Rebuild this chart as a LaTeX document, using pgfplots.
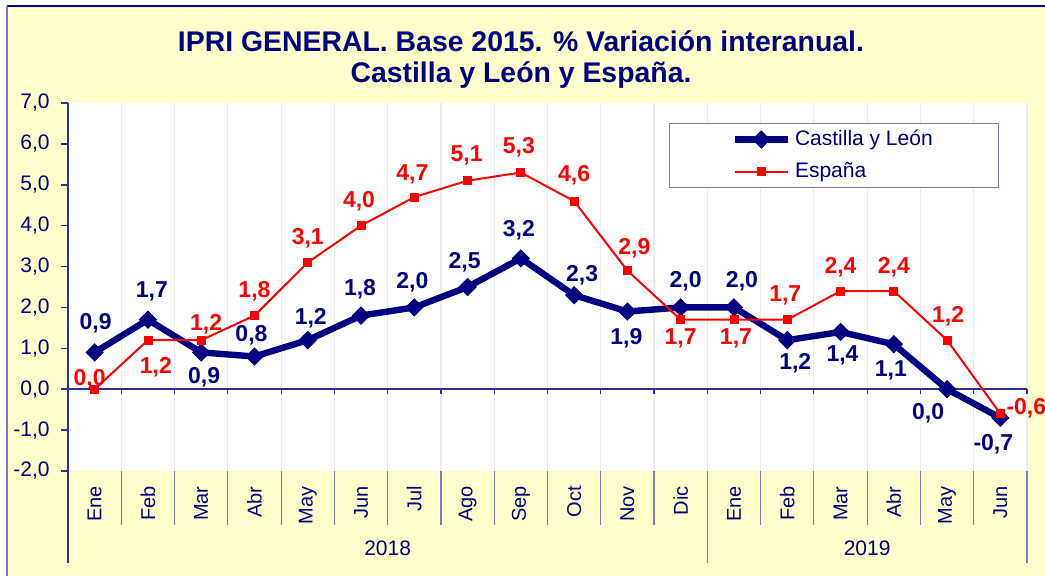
\documentclass[border=0pt]{standalone}
\usepackage{fontspec}
\setmainfont{Liberation Sans}
\usepackage{pgfplots}
\pgfplotsset{compat=1.18}
\usepackage{pgfplotstable}
\definecolor{navy}{HTML}{000080}
\definecolor{esp}{HTML}{FF0000}
\definecolor{bgy}{HTML}{FFFFCC}
\definecolor{axblue}{HTML}{2E2E99}
\definecolor{sepblue}{HTML}{7B7BBD}
\definecolor{gridc}{HTML}{ECECEC}

\pgfplotstableread{
x y dx dy
0 0.9 0.5 14.5
1 1.7 2 14
2 0.9 1.5 -12.5
3 0.8 -1.5 10.5
4 1.2 1.5 11
5 1.8 -0.5 13
6 2.0 -1 12.5
7 2.5 -1.5 12.5
8 3.2 -1 14
9 2.3 4 10
10 1.9 -0.5 -13.5
11 2.0 2.5 13
12 2.0 4 13
13 1.2 4 -11.5
14 1.4 1 -11.5
15 1.1 -1.5 -13
16 0.0 -9.5 -12
17 -0.7 -3.5 -13
}\cyl

\pgfplotstableread{
x y dx dy
0 0.0 -2.5 5
1 1.2 4 -13.5
2 1.2 2.5 8
3 1.8 0 12
4 3.1 0 12
5 4.0 -1 12
6 4.7 -1 11.5
7 5.1 -0.5 12.5
8 5.3 -1 12.5
9 4.6 0 13
10 2.9 3.5 11
11 1.7 0 -9.5
12 1.7 1 -9.5
13 1.7 -1 12
14 2.4 0 12
15 2.4 0 12
16 1.2 0.5 12
17 -0.6 13 2.5
}\esptab

\begin{document}
\begin{tikzpicture}
\path[use as bounding box] (0pt,0pt) rectangle (522.5pt,288pt);
\fill[bgy] (3.5pt,-5pt) rectangle (530pt,285pt);
\draw[navy, line width=1pt] (3.5pt,285pt) -- (530pt,285pt);
\draw[sepblue, line width=1.2pt] (3.5pt,285pt) -- (3.5pt,-5pt);

\begin{axis}[
  at={(34pt,52.5pt)}, anchor=south west,
  scale only axis, width=479.5pt, height=184pt,
  xmin=-0.5, xmax=17.5, ymin=-2, ymax=7,
  clip=false,
  axis background/.style={fill=white},
  axis lines*=left,
  x axis line style={draw=none},
  y axis line style={draw=axblue, line width=0.8pt},
  tick align=outside,
  major tick length=3.5pt,
  minor tick length=0pt,
  xtick style={draw=none},
  ytick style={draw=axblue, line width=0.8pt},
  xtick={0,...,17},
  xticklabels={Ene,Feb,Mar,Abr,May,Jun,Jul,Ago,Sep,Oct,Nov,Dic,Ene,Feb,Mar,Abr,May,Jun},
  x tick label style={rotate=90, anchor=east, inner sep=0pt, xshift=-4pt, font=\fontsize{10}{12}\selectfont, text=navy},
  minor xtick={-0.5,0.5,...,17.5},
  xminorgrids=true,
  minor x grid style={gridc, line width=0.6pt},
  ytick={-2,-1,0,1,2,3,4,5,6,7},
  yticklabel={\pgfmathprintnumber[fixed,fixed zerofill,precision=1,use comma,assume math mode=true]{\tick}},
  y tick label style={inner sep=0pt, xshift=-5.5pt, font=\fontsize{10.5}{12}\selectfont, text=navy},
  legend style={at={(0.6267,0.9457)}, anchor=north west, draw=sepblue, fill=white, line width=0.6pt,
    font=\fontsize{10.5}{12}\selectfont, text=navy, inner xsep=31pt, inner ysep=0pt,
    nodes={text height=8pt, text depth=2.5pt, inner ysep=2.75pt}},
  legend cell align=left,
  legend image code/.code={\draw[mark repeat=2,mark phase=2,#1] plot coordinates {(0pt,0pt) (13.25pt,0pt) (26.5pt,0pt)};},
  nodes near coords={\pgfmathprintnumber[fixed,fixed zerofill,precision=1,use comma,assume math mode=true]{\pgfplotspointmeta}},
  visualization depends on={\thisrow{dx} \as \mydx},
  visualization depends on={\thisrow{dy} \as \mydy},
  every node near coord/.append style={anchor=center, xshift=\mydx pt, yshift=\mydy pt, font=\bfseries\fontsize{11.5}{13}\selectfont},
]
\draw[axblue, line width=0.8pt] (axis cs:-0.5,0) -- (axis cs:17.5,0);
\pgfplotsinvokeforeach{-0.5,0.5,...,17.5}{\draw[axblue, line width=0.6pt] (axis cs:#1,0) -- ++(0pt,-2.5pt);}
\pgfplotsinvokeforeach{0.5,1.5,...,10.5}{\draw[sepblue, line width=0.6pt] (axis cs:#1,-2) -- ++(0pt,-27pt);}
\pgfplotsinvokeforeach{12.5,13.5,...,16.5}{\draw[sepblue, line width=0.6pt] (axis cs:#1,-2) -- ++(0pt,-27pt);}
\draw[axblue, line width=0.8pt] (axis cs:-0.5,-2) -- ++(0pt,-46pt);
\draw[sepblue!70!gray, line width=0.6pt] (axis cs:11.5,-2) -- ++(0pt,-46pt);
\draw[sepblue, line width=0.6pt] (axis cs:17.5,-2) -- ++(0pt,-46pt);
\node[text=navy, font=\fontsize{10.5}{12}\selectfont, yshift=-38.5pt] at (axis cs:5.5,-2) {2018};
\node[text=navy, font=\fontsize{10.5}{12}\selectfont, yshift=-38.5pt] at (axis cs:14.5,-2) {2019};

\addplot[navy, line width=3.2pt, mark=square*, mark size=3pt, mark options={rotate=45, solid, line width=0.5pt},
  every node near coord/.append style={text=navy}]
  table[x=x, y=y, meta=y]{\cyl};
\addlegendentry{Castilla y León}
\addplot[esp, line width=1pt, mark=square*, mark size=2pt, mark options={solid, line width=0.4pt},
  every node near coord/.append style={text=esp}]
  table[x=x, y=y, meta=y]{\esptab};
\addlegendentry{España}
\end{axis}

\node[anchor=base, text=navy, font=\bfseries\fontsize{14.2}{16}\selectfont] at (260.5pt,262pt) {IPRI GENERAL. Base 2015. \% Variación interanual.};
\node[anchor=base, text=navy, font=\bfseries\fontsize{14.2}{16}\selectfont] at (260.5pt,246.5pt) {Castilla y León y España.};
\end{tikzpicture}
\end{document}
